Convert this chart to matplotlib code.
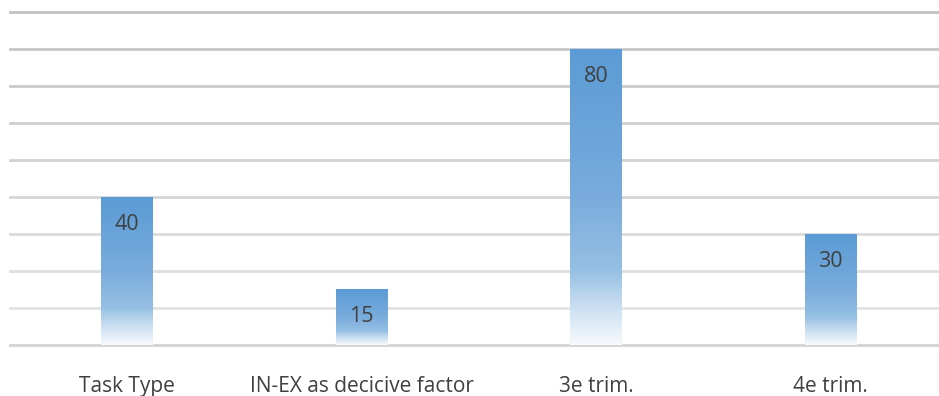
import numpy as np
import matplotlib
matplotlib.use("Agg")
import matplotlib.pyplot as plt
from matplotlib.colors import LinearSegmentedColormap

# === Data ===
categories = ["Task Type", "IN-EX as decicive factor", "3e trim.", "4e trim."]
values = [40, 15, 80, 30]
grid_levels = [10, 20, 30, 40, 50, 60, 70, 80, 90]

# === Style ===
plt.rcParams["font.family"] = ["Open Sans", "DejaVu Sans"]
TEXT_COLOR = "#404040"
BAR_WIDTH = 0.22

# top of bar -> bottom of bar
bar_cmap = LinearSegmentedColormap.from_list(
    "bar_fade",
    [(0.0, "#5b9bd5"), (0.5, "#79acdc"), (0.75, "#96c0e4"),
     (0.86, "#c6dcf0"), (1.0, "#f7fafd")],
)

fig = plt.figure(figsize=(9.39, 3.96), dpi=100)
ax = fig.add_axes([10 / 939, 51 / 396, 938 / 939, 333 / 396])

# gridlines get lighter towards the bottom
ax.axhline(0, color="#d6d6d6", lw=2.2, zorder=1, clip_on=False)
for lvl in grid_levels:
    shade = int(0xe6 - (lvl / 90) * (0xe6 - 0xc2))
    ax.axhline(lvl, color=f"#{shade:02x}{shade:02x}{shade:02x}", lw=2.0,
               zorder=1, clip_on=False)

# === Bars with vertical gradient fill ===
grad = np.linspace(0, 1, 256).reshape(-1, 1)
x = np.arange(len(categories))
for xi, v in zip(x, values):
    ax.imshow(grad, cmap=bar_cmap, aspect="auto", interpolation="bilinear",
              extent=[xi - BAR_WIDTH / 2, xi + BAR_WIDTH / 2, 0, v],
              origin="upper", zorder=2)
    ax.text(xi, v - 7.3, str(v), ha="center", va="center",
            fontsize=15.5, color=TEXT_COLOR, zorder=3)

ax.set_xlim(-0.5, len(categories) - 0.5)
ax.set_ylim(0, 90)

ax.set_xticks(x)
ax.set_xticklabels(categories, fontsize=15, color=TEXT_COLOR)
ax.tick_params(axis="x", length=0, pad=22)
ax.set_yticks([])
for side in ax.spines.values():
    side.set_visible(False)

fig.savefig("out.png", dpi=100, facecolor="white")
